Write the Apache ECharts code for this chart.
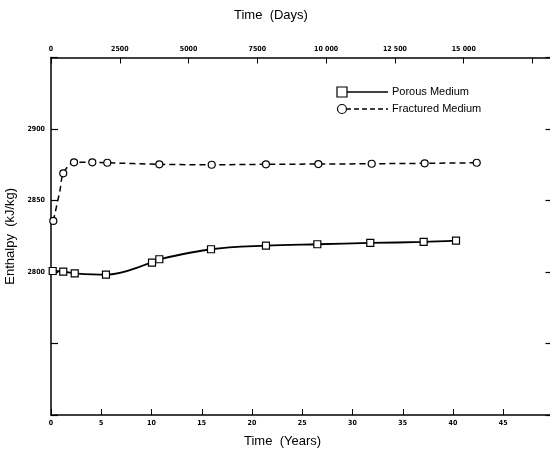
<!DOCTYPE html>
<html>
<head>
<meta charset="utf-8">
<script src="https://cdn.jsdelivr.net/npm/echarts@6/dist/echarts.min.js"></script>
<style>
  html, body { margin: 0; padding: 0; background: #fff; }
  #chart { width: 550px; height: 455px; }
</style>
</head>
<body>
<div id="chart"></div>
<script>
// Enthalpy of produced fluid over time, porous vs fractured reservoir model
const porousYears     = [0.17, 1.22, 2.36, 5.47, 10.05, 10.78, 15.92, 21.39, 26.5, 31.77, 37.08, 40.3];
const porousEnthalpy  = [2800.7, 2800.2, 2799.1, 2798.1, 2806.5, 2808.9, 2815.9, 2818.4, 2819.4, 2820.3, 2821.0, 2821.9];

const fracturedYears    = [0.23, 0.9, 1.22, 2.29, 4.11, 5.6, 10.78, 15.99, 21.39, 26.6, 31.91, 37.18, 42.36];
const fracturedEnthalpy = [2835.7, 2857.3, 2869.0, 2876.7, 2876.7, 2876.4, 2875.3, 2875.0, 2875.3, 2875.5, 2875.7, 2876.0, 2876.4];
// intermediate fractured point drawn without a marker
const fracturedUnmarked = [1];

const labelledEnthalpy = [2800, 2850, 2900];
const yearRange = [0, 50];
const enthalpyRange = [2700, 2950];
const DAYS_PER_YEAR = 365.25;

const seriesNames = ['Porous Medium', 'Fractured Medium'];

const tickFont = {
  fontFamily: "'Liberation Sans Narrow', 'DejaVu Sans Condensed', 'Liberation Sans', sans-serif",
  fontWeight: 'bold',
  fontSize: 7,
  color: '#000'
};
const titleFont = {
  fontFamily: "'Liberation Sans', Arial, sans-serif",
  fontWeight: 'normal',
  fontSize: 13,
  color: '#000'
};
const axisLine = { show: true, onZero: false, lineStyle: { color: '#000', width: 1.5 } };

function daysLabel(v) {
  if (v > 15000) return '';
  if (v >= 10000) {
    const s = String(v);
    return s.slice(0, s.length - 3) + ' ' + s.slice(-3);
  }
  return String(v);
}

const chart = echarts.init(document.getElementById('chart'), null, { renderer: 'canvas' });

const porousData = porousYears.map((x, i) => [x, porousEnthalpy[i]]);
const fracturedData = fracturedYears.map((x, i) =>
  fracturedUnmarked.includes(i)
    ? { value: [x, fracturedEnthalpy[i]], symbol: 'none' }
    : [x, fracturedEnthalpy[i]]
);

// legend rows: marker at left end of a short line, then the name
function legendRow(y, symbolShape, dashed, name) {
  return {
    type: 'group',
    children: [
      {
        type: 'line',
        shape: { x1: 346, y1: y, x2: 388, y2: y },
        style: { stroke: '#000', lineWidth: 1.6, lineDash: dashed ? [5, 3] : null }
      },
      symbolShape,
      {
        type: 'text',
        style: {
          x: 392, y: y, text: name,
          fill: '#000',
          font: "11px 'Liberation Sans', Arial, sans-serif",
          verticalAlign: 'middle'
        }
      }
    ]
  };
}

const legendY = [92, 109];

chart.setOption({
  animation: false,
  backgroundColor: '#fff',
  title: [
    { text: 'Time  (Days)', left: 234, top: 9, padding: 0, textStyle: titleFont },
    { text: 'Time  (Years)', left: 244, top: 435, padding: 0, textStyle: titleFont }
  ],
  grid: { left: 51, right: -3.5, top: 57.5, bottom: 40, containLabel: false, outerBoundsMode: 'none' },
  xAxis: [
    {
      type: 'value',
      position: 'bottom',
      min: yearRange[0], max: yearRange[1], interval: 5,
      axisLine: axisLine,
      axisTick: { show: true, inside: true, length: 6, lineStyle: { color: '#000', width: 1 } },
      axisLabel: Object.assign({ margin: 5, showMaxLabel: false }, tickFont),
      splitLine: { show: false }
    },
    {
      type: 'value',
      position: 'top',
      min: yearRange[0] * DAYS_PER_YEAR, max: yearRange[1] * DAYS_PER_YEAR, interval: 2500,
      axisLine: axisLine,
      axisTick: { show: true, inside: true, length: 6, lineStyle: { color: '#000', width: 1 } },
      axisLabel: Object.assign({ margin: 5, showMaxLabel: false, formatter: daysLabel }, tickFont),
      splitLine: { show: false }
    }
  ],
  yAxis: [
    {
      type: 'value',
      position: 'left',
      min: enthalpyRange[0], max: enthalpyRange[1], interval: 50,
      name: 'Enthalpy  (kJ/kg)',
      nameLocation: 'middle',
      nameGap: 30,
      nameTextStyle: titleFont,
      axisLine: axisLine,
      axisTick: { show: true, inside: true, length: 7, lineStyle: { color: '#000', width: 1.2 } },
      axisLabel: Object.assign({
        margin: 6,
        formatter: v => labelledEnthalpy.includes(v) ? String(v) : ''
      }, tickFont),
      splitLine: { show: false }
    },
    {
      type: 'value',
      position: 'right',
      min: enthalpyRange[0], max: enthalpyRange[1], interval: 50,
      axisLine: axisLine,
      axisTick: { show: true, inside: true, length: 8, lineStyle: { color: '#000', width: 1.2 } },
      axisLabel: { show: false },
      splitLine: { show: false }
    }
  ],
  graphic: [
    legendRow(legendY[0], {
      type: 'rect',
      shape: { x: 337, y: legendY[0] - 5, width: 10, height: 10 },
      style: { fill: '#fff', stroke: '#000', lineWidth: 1.2 }
    }, false, seriesNames[0]),
    legendRow(legendY[1], {
      type: 'circle',
      shape: { cx: 342, cy: legendY[1], r: 4.5 },
      style: { fill: '#fff', stroke: '#000', lineWidth: 1.2 }
    }, true, seriesNames[1])
  ],
  series: [
    {
      name: seriesNames[0],
      type: 'line',
      xAxisIndex: 0, yAxisIndex: 0,
      data: porousData,
      smooth: 0.35,
      symbol: 'rect',
      symbolSize: 7,
      showAllSymbol: true,
      lineStyle: { color: '#000', width: 1.8 },
      itemStyle: { color: '#fff', borderColor: '#000', borderWidth: 1.2 },
      z: 3
    },
    {
      name: seriesNames[1],
      type: 'line',
      xAxisIndex: 0, yAxisIndex: 0,
      data: fracturedData,
      smooth: 0.3,
      symbol: 'circle',
      symbolSize: 7,
      showAllSymbol: true,
      lineStyle: { color: '#000', width: 1.5, type: [6, 4] },
      itemStyle: { color: '#fff', borderColor: '#000', borderWidth: 1.2 },
      z: 3
    }
  ]
});
</script>
</body>
</html>
